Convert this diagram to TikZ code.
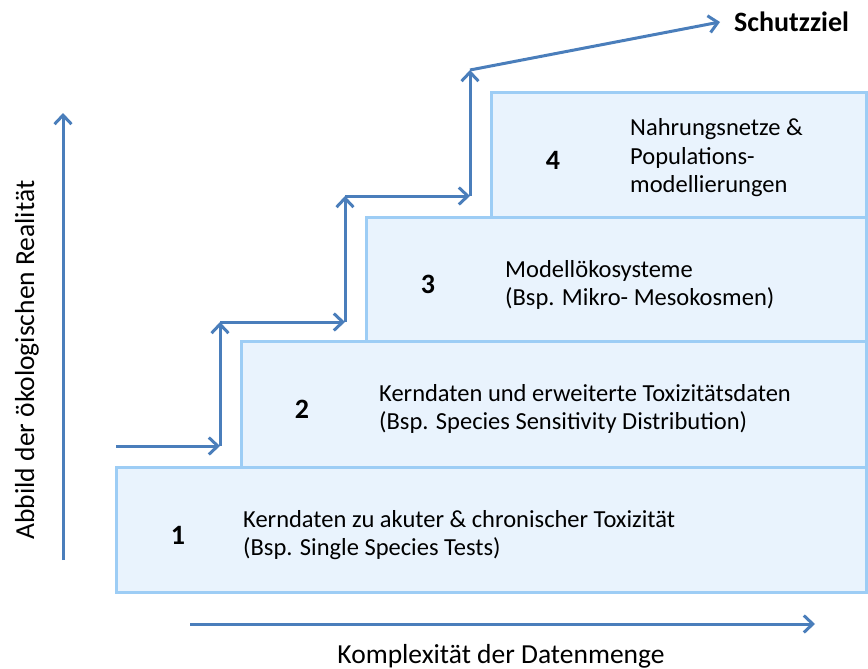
\documentclass[tikz,border=0pt]{standalone}
\usepackage{fontspec}
\setmainfont{Carlito}
\usetikzlibrary{arrows.meta}
\definecolor{stufenrand}{RGB}{157,205,245}
\definecolor{stufenfill}{RGB}{233,243,253}
\definecolor{pfeilblau}{RGB}{74,126,187}
\begin{document}
\begin{tikzpicture}[x=1pt, y=-1pt,
    stufe/.style = {draw=stufenrand, fill=stufenfill, line width=3pt, inner sep=0pt},
    nummer/.style = {font=\fontsize{28}{30}\selectfont\bfseries, inner sep=0pt},
    beschreibung/.style = {font=\fontsize{24.5}{28.5}\selectfont, align=left, anchor=west, inner sep=0pt},
    pfeil/.style = {draw=pfeilblau, line width=3pt, -{Straight Barb[length=9pt, width=17pt, line width=3pt]}},
    achse/.style = {font=\fontsize{27.5}{30}\selectfont, inner sep=0pt}]
        \useasboundingbox (0,0) rectangle (868,669);
        \node[stufe, minimum width=375pt, minimum height=124pt] (4) at (678.5,155) {};
        \node[stufe, minimum width=500pt, minimum height=124pt] (3) at (616,279) {};
        \node[stufe, minimum width=625pt, minimum height=126pt] (2) at (553.5,404) {};
        \node[stufe, minimum width=750pt, minimum height=125pt] (1) at (491,529.5) {};
        \node[nummer] (n1) at (178,535) {1};
        \node[nummer] (n2) at (302,409) {2};
        \node[nummer] (n3) at (428,284) {3};
        \node[nummer] (n4) at (553,160) {4};
        \node[beschreibung] (t1) at (243,535) {Kerndaten zu akuter \& chronischer Toxizität\\(Bsp. Single Species Tests)};
        \node[beschreibung] (t2) at (379,409) {Kerndaten und erweiterte Toxizitätsdaten\\(Bsp. Species Sensitivity Distribution)};
        \node[beschreibung] (t3) at (505,285) {Modellökosysteme\\(Bsp. Mikro- Mesokosmen)};
        \node[beschreibung] (t4) at (630,158) {Nahrungsnetze \&\\Populations-\\modellierungen};
        \node[font=\fontsize{28}{30}\selectfont\bfseries, anchor=west, inner sep=0pt, inner xsep=14pt] (ziel) at (720,22) {Schutzziel};
        \coordinate (a0) at (116,446);
        \coordinate (a1) at (220,446);
        \coordinate (a2) at (220,322);
        \coordinate (a3) at (345,322);
        \coordinate (a4) at (345,196);
        \coordinate (a5) at (470,196);
        \coordinate (a6) at (470,70);
        \draw[pfeil] (a0) -- (a1);
        \draw[pfeil] (a1) -- (a2);
        \draw[pfeil] (a2) -- (a3);
        \draw[pfeil] (a3) -- (a4);
        \draw[pfeil] (a4) -- (a5);
        \draw[pfeil] (a5) -- (a6);
        \draw[pfeil] (a6) -- (ziel.west);
        % Achsen
        \coordinate (y0) at (63,560);
        \coordinate (y1) at (63,113);
        \coordinate (x0) at (190,624);
        \coordinate (x1) at (815,624);
        \draw[pfeil] (y0) -- (y1);
        \draw[pfeil] (x0) -- (x1);
        \node[achse, rotate=90] (ylabel) at (27,360) {Abbild der ökologischen Realität};
        \node[achse] (xlabel) at (501,656) {Komplexität der Datenmenge};
\end{tikzpicture}
\end{document}
